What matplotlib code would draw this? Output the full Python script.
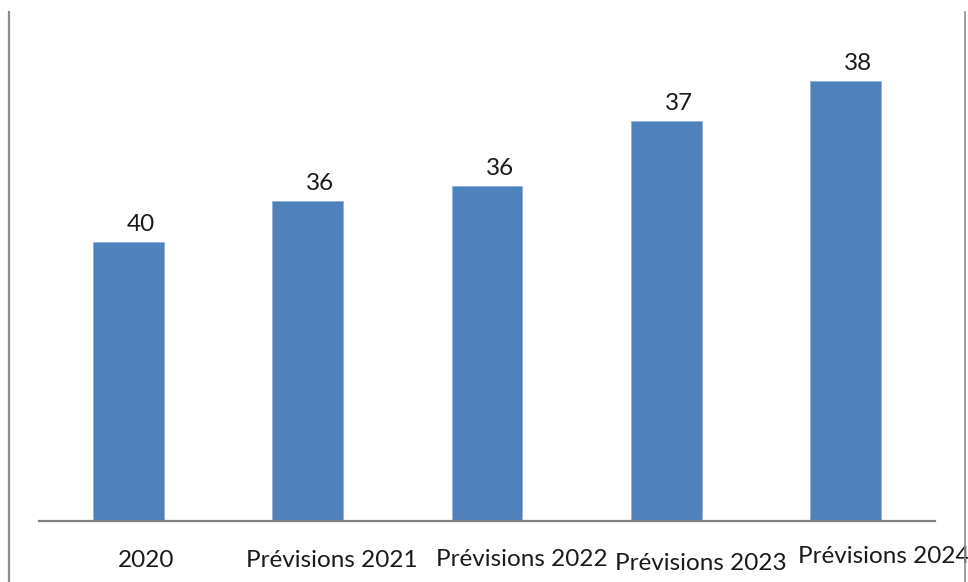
import matplotlib.pyplot as plt
import matplotlib.transforms as mtransforms
from matplotlib.lines import Line2D

categories = ['2020', 'Prévisions 2021', 'Prévisions 2022', 'Prévisions 2023', 'Prévisions 2024']
# bar heights as drawn (arbitrary units), and the value labels printed on top
heights = [27.9, 32.0, 33.5, 40.0, 44.0]
labels = ['40', '36', '36', '37', '38']

plt.rcParams['font.family'] = ['Lato', 'DejaVu Sans']

fig = plt.figure(figsize=(9.68, 5.82), dpi=100)
ax = fig.add_axes([39 / 968, 1 - 521 / 582, 896 / 968, 521 / 582])

x = list(range(len(categories)))
ax.bar(x, heights, width=0.395, color='#4f81bd', edgecolor='#8fb1dd', linewidth=0.6, zorder=2)
ax.set_xlim(-0.5, 4.5)
ax.set_ylim(0, 52.1)

for xi, h, lab in zip(x, heights, labels):
    ax.annotate(lab, (xi, h), xytext=(9, 5), textcoords='offset points',
                ha='center', va='bottom', fontsize=17.5, color='#1a1a1a')

for s in ['top', 'right', 'left']:
    ax.spines[s].set_visible(False)
ax.spines['bottom'].set_color('#808080')
ax.spines['bottom'].set_linewidth(1.6)
ax.set_yticks([])
ax.set_xticks(x)
ax.set_xticklabels(categories, fontsize=17.5, color='#1a1a1a')
ax.tick_params(axis='x', length=0, pad=21)

# labels sit a little right of their bars, with slight vertical jitter
shifts = [(18, 0), (24, 0), (35, 1), (35, -3), (38, 4)]
for t, (dx, dy) in zip(ax.get_xticklabels(), shifts):
    t.set_transform(t.get_transform() + mtransforms.ScaledTranslation(dx / 100, dy / 100, fig.dpi_scale_trans))

# frame lines at the left and right edges
fig.add_artist(Line2D([9 / 968, 9 / 968], [0, 1 - 12 / 582], transform=fig.transFigure, color='#8c8c8c', lw=1.6))
fig.add_artist(Line2D([965 / 968, 965 / 968], [0, 1 - 12 / 582], transform=fig.transFigure, color='#8c8c8c', lw=1.2))

fig.savefig('out.png', dpi=100)
